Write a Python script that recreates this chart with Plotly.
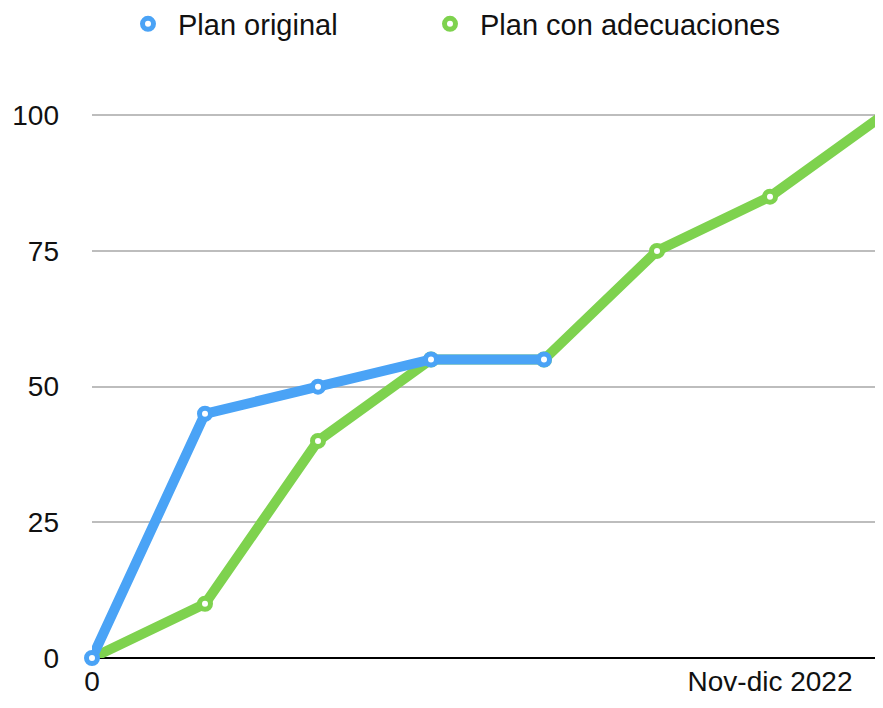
import plotly.graph_objects as go

x_idx = [0, 1, 2, 3, 4, 5, 6, 7]
plan_original = [0, 45, 50, 55, 55]
plan_adecuaciones = [0, 10, 40, 55, 55, 75, 85, 100]
tick_pos = [0, 6]
tick_text = ["0", "Nov-dic 2022"]
y_ticks = [0, 25, 50, 75, 100]

BLUE = "#4aa3f6"
GREEN = "#7ed24e"
FONT = "Liberation Sans, Arial, Helvetica, sans-serif"

fig = go.Figure()

# green drawn first so blue sits on top
fig.add_trace(go.Scatter(
    x=x_idx[:len(plan_adecuaciones)], y=plan_adecuaciones, mode="lines+markers",
    line=dict(color=GREEN, width=10),
    marker=dict(size=11, color="white", line=dict(color=GREEN, width=5)),
    showlegend=False, hoverinfo="skip"))
fig.add_trace(go.Scatter(
    x=x_idx[:len(plan_original)], y=plan_original, mode="lines+markers",
    line=dict(color=BLUE, width=10), cliponaxis=False,
    marker=dict(size=11, color="white", line=dict(color=BLUE, width=5)),
    showlegend=False, hoverinfo="skip"))

# legend entries (marker only)
fig.add_trace(go.Scatter(
    x=[None], y=[None], mode="markers", name="Plan original", legend="legend",
    marker=dict(size=11, color="white", line=dict(color=BLUE, width=5))))
fig.add_trace(go.Scatter(
    x=[None], y=[None], mode="markers", name="Plan con adecuaciones", legend="legend2",
    marker=dict(size=11, color="white", line=dict(color=GREEN, width=5))))

W, H = 867, 692
leg_common = dict(orientation="h", xref="container", xanchor="left",
                  yref="container", y=1 - 16 / H, yanchor="middle",
                  font=dict(size=29), itemwidth=50, bgcolor="rgba(0,0,0,0)")

fig.update_layout(
    width=W, height=H,
    margin=dict(l=84, r=0, t=53, b=42, autoexpand=False),
    paper_bgcolor="white", plot_bgcolor="white",
    font=dict(family=FONT, size=28, color="#111111"),
    legend=dict(x=110 / W, **leg_common),
    legend2=dict(x=412 / W, **leg_common),
)

fig.update_xaxes(
    range=[0, 783 / 113.0], tickmode="array", tickvals=tick_pos, ticktext=tick_text,
    tickfont=dict(size=28), automargin=False,
    showgrid=False, zeroline=False, showline=False, ticks="",
    ticklabelstandoff=4, fixedrange=True)
fig.update_yaxes(
    range=[0, 110], tickmode="array", tickvals=y_ticks, automargin=False,
    showgrid=True, gridcolor="#bdbdbd", gridwidth=2,
    zeroline=True, zerolinecolor="#000000", zerolinewidth=2,
    showline=False, ticks="", ticklabelstandoff=32, fixedrange=True)

fig.write_html("out.html")
